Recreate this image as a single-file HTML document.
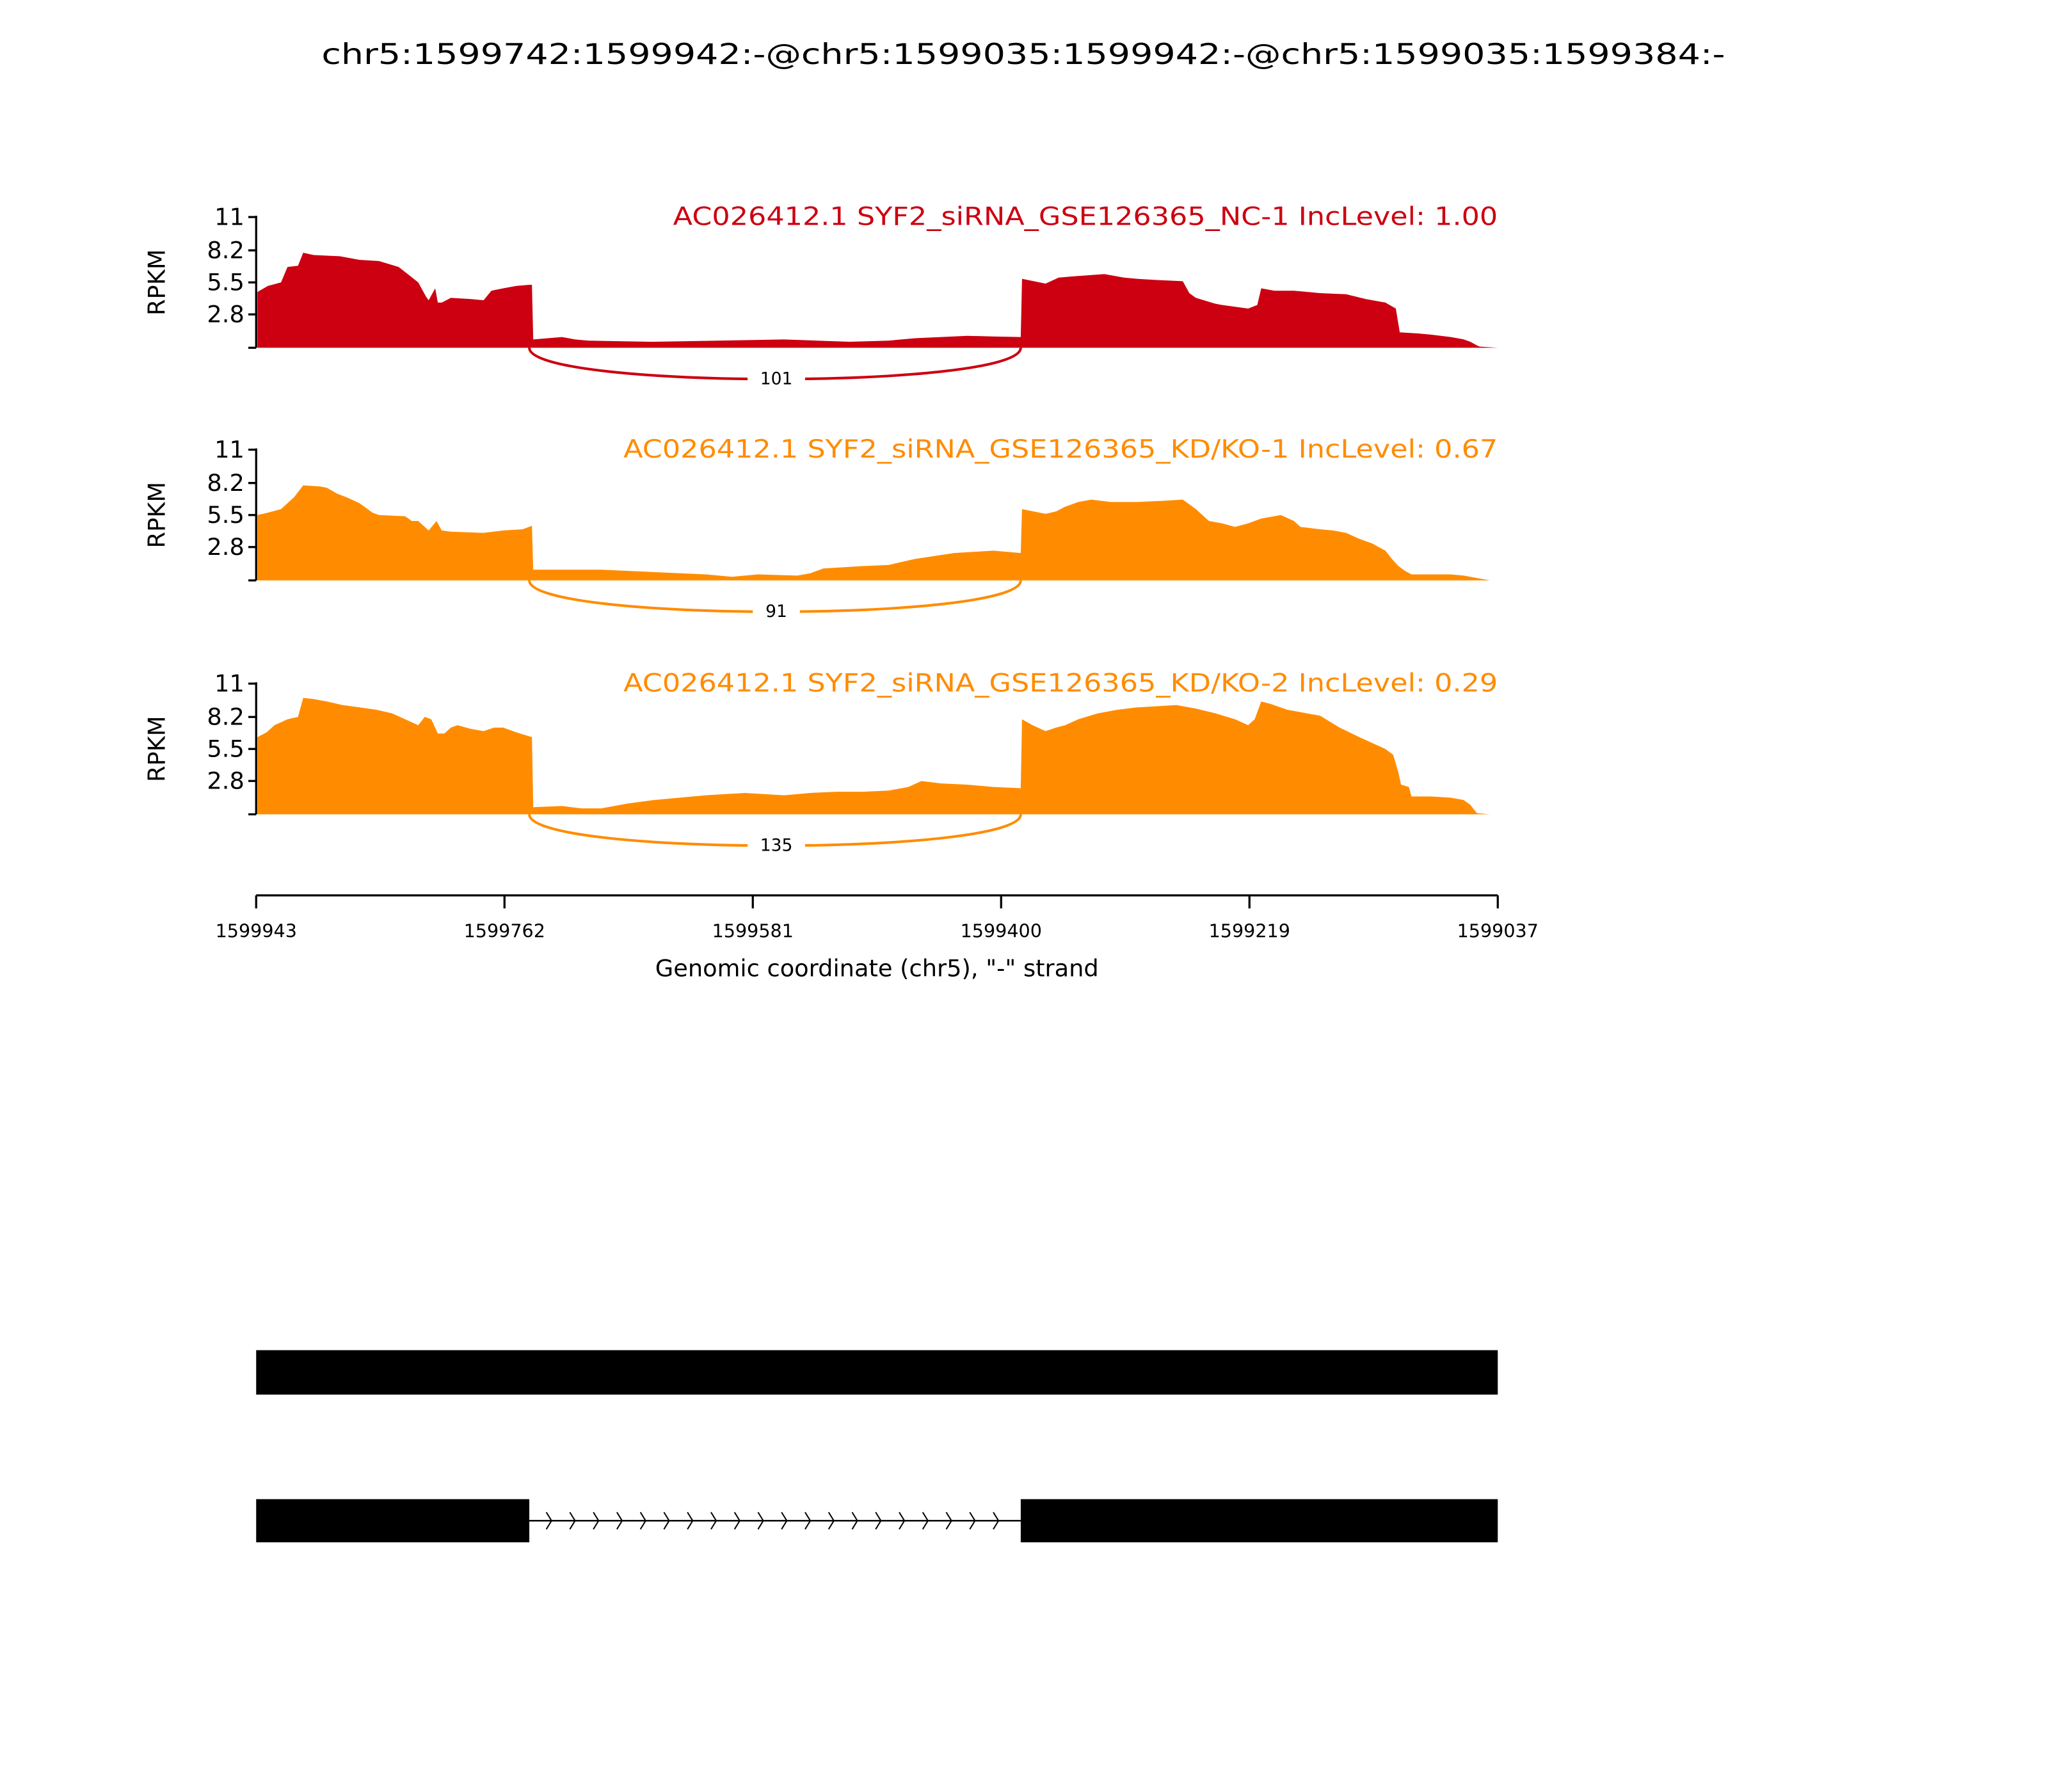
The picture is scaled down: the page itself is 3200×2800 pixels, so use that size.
<!DOCTYPE html>
<html><head><meta charset="utf-8"><style>
html,body{margin:0;padding:0;background:#fff;}
svg{display:block;}
text{font-family:"DejaVu Sans","Liberation Sans",sans-serif;}
</style></head><body>
<svg width="3200" height="2800" viewBox="0 0 1567 1371" xmlns="http://www.w3.org/2000/svg">
<rect width="1567" height="1371" fill="#fff"/>
<text x="783" y="49" font-size="22" text-anchor="middle" textLength="1074" lengthAdjust="spacingAndGlyphs">chr5:1599742:1599942:-@chr5:1599035:1599942:-@chr5:1599035:1599384:-</text>

<!-- Panel 1 -->
<g transform="translate(0,266) scale(1,-9.09)">
<polygon fill="#cc0011" points="197,0 197,4.7 205,5.2 215,5.5 220,6.8 228,6.9 232,8.0 240,7.8 260,7.7 275,7.4 290,7.3 305,6.8 312,6.2 320,5.5 326,4.3 328,4.0 333,5.0 335,3.8 338,3.8 345,4.2 360,4.1 370,4.0 376,4.8 385,5.0 395,5.2 405,5.3 407,5.3 408,0.7 430,0.9 440,0.7 450,0.6 500,0.5 550,0.6 600,0.7 625,0.6 650,0.5 680,0.6 700,0.8 720,0.9 740,1.0 760,0.95 781,0.9 782,5.8 800,5.4 810,5.9 820,6.0 845,6.2 860,5.9 870,5.8 885,5.7 905,5.6 910,4.6 915,4.2 930,3.7 935,3.6 955,3.3 962,3.6 965,5.0 975,4.8 990,4.8 1010,4.6 1030,4.5 1045,4.1 1060,3.8 1068,3.3 1071,1.3 1085,1.2 1095,1.1 1110,0.9 1120,0.7 1125,0.5 1130,0.2 1132,0.1 1146,0"/>
</g>
<path d="M405,266 C405,298 781,298 781,266" fill="none" stroke="#cc0011" stroke-width="2"/>
<rect x="572" y="281" width="44" height="16" fill="#fff"/>
<text x="594" y="294" font-size="13" text-anchor="middle">101</text>
<text x="1146" y="172" font-size="19" fill="#cc0011" text-anchor="end" textLength="631" lengthAdjust="spacingAndGlyphs">AC026412.1 SYF2_siRNA_GSE126365_NC-1 IncLevel: 1.00</text>

<!-- Panel 2 -->
<g transform="translate(0,444) scale(1,-9.09)">
<polygon fill="#ff8c00" points="197,0 197,5.5 205,5.7 215,6.0 225,7.0 232,8.0 245,7.9 250,7.8 258,7.3 265,7.0 275,6.5 285,5.7 290,5.5 310,5.4 315,5.0 320,5.0 328,4.2 334,5.0 338,4.2 345,4.1 370,4.0 385,4.2 400,4.3 407,4.6 408,0.9 430,0.9 460,0.9 480,0.8 500,0.7 540,0.5 560,0.3 580,0.5 610,0.4 620,0.6 630,1.0 660,1.2 680,1.3 700,1.8 730,2.3 760,2.5 781,2.3 782,6.0 800,5.6 808,5.8 815,6.2 825,6.6 835,6.8 850,6.6 870,6.6 890,6.7 905,6.8 910,6.4 915,6.0 925,5.0 935,4.8 945,4.5 955,4.8 965,5.2 980,5.5 990,5.0 995,4.5 1010,4.3 1020,4.2 1030,4.0 1040,3.5 1050,3.1 1060,2.5 1065,1.8 1070,1.2 1075,0.8 1080,0.5 1110,0.5 1120,0.4 1130,0.2 1135,0.1 1140,0"/>
</g>
<path d="M405,444 C405,476 781,476 781,444" fill="none" stroke="#ff8c00" stroke-width="2"/>
<rect x="576" y="459" width="36" height="16" fill="#fff"/>
<text x="594" y="472" font-size="13" text-anchor="middle">91</text>
<text x="1146" y="350" font-size="19" fill="#ff8c00" text-anchor="end" textLength="669" lengthAdjust="spacingAndGlyphs">AC026412.1 SYF2_siRNA_GSE126365_KD/KO-1 IncLevel: 0.67</text>

<!-- Panel 3 -->
<g transform="translate(0,623) scale(1,-9.09)">
<polygon fill="#ff8c00" points="197,0 197,6.5 204,6.9 210,7.5 220,8.0 228,8.2 232,9.8 240,9.7 250,9.5 262,9.2 275,9.0 288,8.8 300,8.5 310,8.0 320,7.5 325,8.2 330,8.0 335,6.8 340,6.8 345,7.3 350,7.5 360,7.2 370,7.0 378,7.3 385,7.3 395,6.9 407,6.5 408,0.6 430,0.7 445,0.5 460,0.5 480,0.9 500,1.2 510,1.3 540,1.6 570,1.8 600,1.6 620,1.8 640,1.9 660,1.9 680,2.0 695,2.3 705,2.8 720,2.6 740,2.5 760,2.3 781,2.2 782,8.0 790,7.5 800,7.0 808,7.3 815,7.5 825,8.0 840,8.5 855,8.8 870,9.0 885,9.1 900,9.2 915,8.9 930,8.5 945,8.0 955,7.5 960,8.0 965,9.5 972,9.3 985,8.8 1000,8.5 1010,8.3 1025,7.3 1040,6.5 1050,6.0 1060,5.5 1066,5.0 1070,3.5 1072,2.5 1078,2.3 1080,1.5 1095,1.5 1110,1.4 1120,1.2 1125,0.8 1130,0.1 1140,0"/>
</g>
<path d="M405,623 C405,655 781,655 781,623" fill="none" stroke="#ff8c00" stroke-width="2"/>
<rect x="572" y="638" width="44" height="16" fill="#fff"/>
<text x="594" y="651" font-size="13" text-anchor="middle">135</text>
<text x="1146" y="529" font-size="19" fill="#ff8c00" text-anchor="end" textLength="669" lengthAdjust="spacingAndGlyphs">AC026412.1 SYF2_siRNA_GSE126365_KD/KO-2 IncLevel: 0.29</text>

<!-- Y axes -->
<g stroke="#000" stroke-width="1.6" fill="none">
<path d="M196,165 V266 M190,266 H196 M190,240.5 H196 M190,216 H196 M190,191.5 H196 M190,166 H196"/>
<path d="M196,343 V444 M190,444 H196 M190,418.5 H196 M190,394 H196 M190,369.5 H196 M190,344 H196"/>
<path d="M196,522 V623 M190,623 H196 M190,597.5 H196 M190,573 H196 M190,548.5 H196 M190,523 H196"/>
</g>
<g font-size="18" text-anchor="end">
<text x="187" y="172">11</text><text x="187" y="197.5">8.2</text><text x="187" y="222">5.5</text><text x="187" y="246.5">2.8</text>
<text x="187" y="350">11</text><text x="187" y="375.5">8.2</text><text x="187" y="400">5.5</text><text x="187" y="424.5">2.8</text>
<text x="187" y="529">11</text><text x="187" y="554.5">8.2</text><text x="187" y="579">5.5</text><text x="187" y="603.5">2.8</text>
</g>
<g font-size="18" text-anchor="middle">
<text transform="translate(126,216) rotate(-90)">RPKM</text>
<text transform="translate(126,394) rotate(-90)">RPKM</text>
<text transform="translate(126,573) rotate(-90)">RPKM</text>
</g>

<!-- X axis -->
<g stroke="#000" stroke-width="1.6" fill="none">
<path d="M196,685 H1146 M196,685 V695 M386,685 V695 M576,685 V695 M766,685 V695 M956,685 V695 M1146,685 V695"/>
</g>
<g font-size="14" text-anchor="middle">
<text x="196" y="717">1599943</text><text x="386" y="717">1599762</text><text x="576" y="717">1599581</text>
<text x="766" y="717">1599400</text><text x="956" y="717">1599219</text><text x="1146" y="717">1599037</text>
</g>
<text x="671" y="747" font-size="18" text-anchor="middle">Genomic coordinate (chr5), "-" strand</text>

<!-- Gene models -->
<rect x="196" y="1033" width="950" height="34" fill="#000"/>
<rect x="196" y="1147" width="209" height="33" fill="#000"/>
<rect x="781" y="1147" width="365" height="33" fill="#000"/>
<line x1="405" y1="1163.5" x2="781" y2="1163.5" stroke="#000" stroke-width="1.2"/>
<g stroke="#000" stroke-width="1" fill="none">
<path d="M418,1157 l4,6.5 l-4,6.5 M436,1157 l4,6.5 l-4,6.5 M454,1157 l4,6.5 l-4,6.5 M472,1157 l4,6.5 l-4,6.5 M490,1157 l4,6.5 l-4,6.5 M508,1157 l4,6.5 l-4,6.5 M526,1157 l4,6.5 l-4,6.5 M544,1157 l4,6.5 l-4,6.5 M562,1157 l4,6.5 l-4,6.5 M580,1157 l4,6.5 l-4,6.5 M598,1157 l4,6.5 l-4,6.5 M616,1157 l4,6.5 l-4,6.5 M634,1157 l4,6.5 l-4,6.5 M652,1157 l4,6.5 l-4,6.5 M670,1157 l4,6.5 l-4,6.5 M688,1157 l4,6.5 l-4,6.5 M706,1157 l4,6.5 l-4,6.5 M724,1157 l4,6.5 l-4,6.5 M742,1157 l4,6.5 l-4,6.5 M760,1157 l4,6.5 l-4,6.5"/>
</g>
</svg>
</body></html>
